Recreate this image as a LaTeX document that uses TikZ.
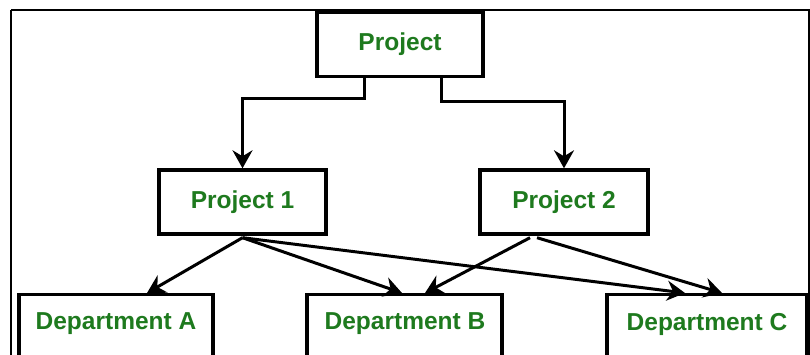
\documentclass[tikz,border=0pt]{standalone}
\usepackage{fontspec}
\setmainfont{Liberation Sans}
\usetikzlibrary{arrows.meta,calc}
\definecolor{txtgreen}{RGB}{30,122,30}
\tikzset{
  lbl/.style={font=\fontsize{24.5}{28}\selectfont\bfseries, text=txtgreen},
  box/.style={draw=black, line width=3.4pt, fill=white, minimum height=64pt, inner sep=0pt, lbl},
  conn/.style={draw=black, line width=3pt, -{Stealth[length=18pt,width=20pt,inset=6pt]}}
}
\begin{document}
\begin{tikzpicture}[x=1pt,y=-1pt]
\useasboundingbox (0,0) rectangle (810,354);
\clip (0,0) rectangle (810,354);
\fill[white] (0,0) rectangle (810,354);
\draw[line width=2.4pt] (11,10) -- (809,10) -- (809,370) (11,10) -- (11,370);
\node[box, minimum width=166pt] (P) at (400,44.5) {Project};
\node[box, minimum width=167pt] (P1) at (242.5,202) {Project 1};
\node[box, minimum width=168pt] (P2) at (564,202) {Project 2};
\node[box, minimum width=194pt, anchor=north] (DA) at (116,293) {};
\node[box, minimum width=195pt, anchor=north] (DB) at (404.5,293) {};
\node[box, minimum width=200pt, anchor=north] (DC) at (707,293) {};
\node[lbl] (tA) at (116,324) {Department A};
\node[lbl] (tB) at (405,324) {Department B};
\node[lbl] (tC) at (707,324) {Department C};
\coordinate (pl) at ($(P.south)+(-36,0)$);
\coordinate (pr) at ($(P.south)+(41,0)$);
\draw[conn] (pl) -- ++(0,20) -| (P1.north);
\draw[conn] (pr) -- ++(0,23) -| (P2.north);
\coordinate (s1) at ($(P1.south)+(0,2)$);
\coordinate (s2a) at ($(P2.south)+(-34,2)$);
\coordinate (s2b) at ($(P2.south)+(-27,2)$);
\coordinate (eA) at (147,293);
\coordinate (eB1) at (402,293);
\coordinate (eB2) at (425,293);
\coordinate (eC1) at (685,293);
\coordinate (eC2) at (722,293);
\draw[conn] (s1) -- (eA);
\draw[conn] (s1) -- (eB1);
\draw[conn] (s1) -- (eC1);
\draw[conn] (s2a) -- (eB2);
\draw[conn] (s2b) -- (eC2);
\end{tikzpicture}
\end{document}
